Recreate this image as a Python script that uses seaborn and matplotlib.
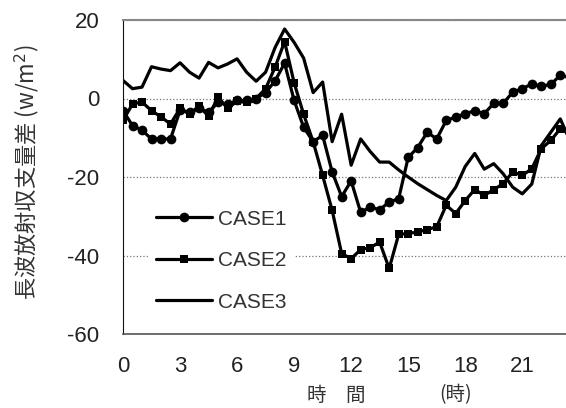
import matplotlib
matplotlib.use("Agg")
import matplotlib.pyplot as plt
from matplotlib import font_manager
import seaborn as sns
import pandas as pd

hours = [0, 0.5, 1, 1.5, 2, 2.5, 3, 3.5, 4, 4.5, 5, 5.5, 6, 6.5, 7, 7.5,
         8, 8.5, 9, 9.5, 10, 10.5, 11, 11.5, 12, 12.5, 13, 13.5, 14, 14.5, 15, 15.5,
         16, 16.5, 17, 17.5, 18, 18.5, 19, 19.5, 20, 20.5, 21, 21.5, 22, 22.5, 23, 23.5]

case1 = [-3.1, -6.9, -8.1, -10.3, -10.3, -10.3, -3.0, -3.5, -2.5, -3.5, -1.0, -1.5, -0.5, -0.5, 0.0, 1.5,
         4.5, 9.0, -0.5, -7.3, -11.0, -9.4, -18.7, -25.0, -21.0, -29.0, -27.7, -28.3, -26.4, -25.5, -15.0, -12.5,
         -8.6, -10.3, -5.6, -4.7, -3.9, -3.1, -3.9, -1.2, -1.2, 1.6, 2.5, 3.7, 3.1, 3.6, 5.9, 5.4]

case2 = [-5.6, -1.4, -0.9, -3.1, -4.7, -6.5, -2.5, -4.0, -2.0, -4.5, 0.3, -2.5, -0.7, -1.0, 0.0, 2.5,
         8.0, 14.5, 4.0, -4.0, -11.0, -19.6, -28.5, -39.5, -40.8, -38.5, -38.0, -36.6, -43.3, -34.6, -34.4, -34.0,
         -33.4, -32.7, -27.2, -29.3, -26.0, -23.2, -24.7, -23.2, -21.7, -18.7, -19.6, -17.9, -12.8, -10.7, -7.7, -9.0]

case3 = [4.6, 2.5, 2.9, 8.1, 7.5, 7.1, 9.1, 6.7, 5.2, 9.2, 7.8, 8.8, 10.1, 6.7, 4.4, 6.7,
         13.0, 17.7, 14.3, 10.3, 1.5, 4.2, -11.0, -4.0, -17.0, -10.3, -13.5, -16.2, -16.2, -18.2, -20.0, -21.7,
         -23.2, -24.7, -26.0, -22.6, -17.3, -14.0, -18.0, -16.6, -19.2, -22.6, -24.3, -21.8, -12.0, -8.6, -5.2, -10.7]

series_names = ["CASE1", "CASE2", "CASE3"]
xticks = [0, 3, 6, 9, 12, 15, 18, 21]
yticks = [-60, -40, -20, 0, 20]
ylabel_text = "長波放射収支量差 (w/m$^2$)"
xlabel_main = "時　間"
xlabel_unit = "(時)"

sns.set_style("white")

available = {f.name for f in font_manager.fontManager.ttflist}
num_font = "Liberation Sans Narrow" if "Liberation Sans Narrow" in available else "Liberation Sans"
plt.rcParams["font.family"] = [num_font, "DejaVu Sans"]
cjk = ["Noto Sans CJK JP", "DejaVu Sans"]

df = pd.DataFrame({"hour": hours, "CASE1": case1, "CASE2": case2, "CASE3": case3})

fig = plt.figure(figsize=(5.66, 4.08), dpi=100)
ax = fig.add_axes([123 / 566, 1 - 334 / 408, 1 - 123 / 566, (334 - 20) / 408])

styles = {"CASE1": dict(marker="o", markersize=7),
          "CASE2": dict(marker="s", markersize=6.3),
          "CASE3": dict(marker=None)}
for name in series_names:
    sns.lineplot(data=df, x="hour", y=name, ax=ax, color="black", linewidth=2.3,
                 label=name, markeredgewidth=0, **styles[name])

ax.set_xlim(0, 23.3)
ax.set_ylim(-60, 20)
ax.set_xticks(xticks)
ax.set_yticks(yticks)
ax.set_xticklabels([str(t) for t in xticks])
ax.set_yticklabels([str(t) for t in yticks])
ax.set_xlabel("")
ax.set_ylabel("")

ax.yaxis.grid(True, linestyle=":", color="#777777", linewidth=0.9)
ax.xaxis.grid(False)
ax.tick_params(axis="both", direction="out", length=6, width=1, colors="#222222", labelsize=16)
ax.tick_params(axis="y", pad=11)
ax.tick_params(axis="x", pad=10)
ax.spines["right"].set_visible(False)
ax.spines["top"].set_color("#888888")
ax.spines["top"].set_linewidth(1.5)
ax.spines["left"].set_color("#111111")
ax.spines["bottom"].set_color("#555555")
ax.spines["bottom"].set_linewidth(1.2)

leg = ax.legend(loc="center left", bbox_to_anchor=(0.032, 0.234), frameon=True,
                facecolor="white", edgecolor="none", framealpha=1, fontsize=15,
                handlelength=2.7, handletextpad=0.3, labelspacing=1.08, numpoints=1,
                borderpad=0.4)
for t in leg.get_texts():
    t.set_color("#333333")

fig.text(27 / 566, 1 - 172 / 408, ylabel_text, rotation=90, ha="center", va="center",
         fontsize=16, family=cjk, color="#333333")
fig.text(336 / 566, 1 - 395 / 408, xlabel_main, ha="center", va="center",
         fontsize=14, family=cjk, color="#333333")
fig.text(456 / 566, 1 - 395 / 408, xlabel_unit, ha="center", va="center",
         fontsize=14, family=cjk, color="#333333")

fig.savefig("out.png", dpi=100, facecolor="white")
